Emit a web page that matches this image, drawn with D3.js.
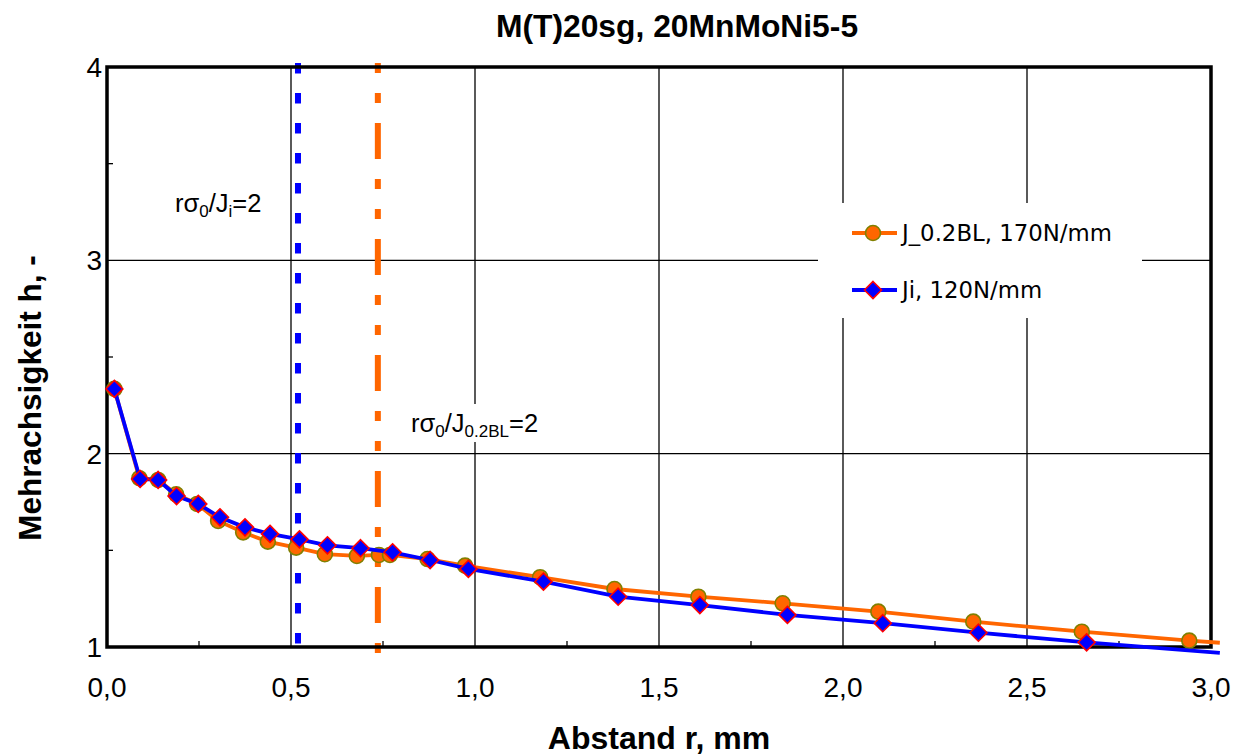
<!DOCTYPE html>
<html>
<head>
<meta charset="utf-8">
<script src="https://cdn.jsdelivr.net/npm/d3@7"></script>
<style>
body { margin: 0; background: #fff; }
text { font-family: "Liberation Sans", Arial, sans-serif; fill: #000; }
</style>
</head>
<body>
<script>
var w = 1242;
var h = 756;

//Data
var seriesNames = ["J_0.2BL, 170N/mm", "Ji, 120N/mm"];
var jblR = [0.020, 0.088, 0.139, 0.188, 0.245, 0.302, 0.370, 0.437, 0.514, 0.592, 0.679, 0.739, 0.769, 0.871, 0.973, 1.177, 1.379, 1.607, 1.836, 2.096, 2.354, 2.649, 2.941];
var jblH = [2.335, 1.873, 1.864, 1.790, 1.740, 1.652, 1.593, 1.545, 1.514, 1.480, 1.471, 1.476, 1.476, 1.455, 1.421, 1.361, 1.300, 1.260, 1.226, 1.183, 1.131, 1.079, 1.033];
var jiR = [0.020, 0.090, 0.139, 0.189, 0.248, 0.307, 0.375, 0.443, 0.523, 0.599, 0.689, 0.776, 0.878, 0.982, 1.186, 1.389, 1.611, 1.849, 2.108, 2.368, 2.662];
var jiH = [2.335, 1.869, 1.864, 1.781, 1.740, 1.671, 1.619, 1.585, 1.557, 1.526, 1.511, 1.490, 1.450, 1.404, 1.338, 1.260, 1.217, 1.166, 1.123, 1.074, 1.024];
//line continues past the last marker
var jblEnd = [3.024, 1.022];
var jiEnd = [3.024, 0.970];
//r*sigma0/J = 2 positions
var refR = [0.519, 0.736];
var xTicks = [0, 0.5, 1.0, 1.5, 2.0, 2.5, 3.0];
var xMinor = [0.25, 0.75, 1.25, 1.75, 2.25, 2.75];
var yTicks = [1, 2, 3, 4];
var yMinor = [1.5, 2.5, 3.5];

var x = d3.scaleLinear().domain([0, 3]).range([107, 1211]);
var y = d3.scaleLinear().domain([1, 4]).range([647, 67]);
var fmt = d3.formatLocale({decimal: ",", thousands: ".", grouping: [3], currency: ["", ""]}).format(".1f");

var svg = d3.select("body")
	.append("svg")
	.attr("width", w)
	.attr("height", h);

//Gridlines
svg.selectAll("line.vgrid")
	.data(xTicks.slice(1, -1))
	.enter()
	.append("line")
	.attr("x1", function(d) { return x(d); })
	.attr("x2", function(d) { return x(d); })
	.attr("y1", y(4))
	.attr("y2", y(1))
	.attr("stroke", "#000")
	.attr("stroke-width", 1.3);
svg.selectAll("line.hgrid")
	.data(yTicks.slice(1, -1))
	.enter()
	.append("line")
	.attr("x1", x(0))
	.attr("x2", x(3))
	.attr("y1", function(d) { return y(d); })
	.attr("y2", function(d) { return y(d); })
	.attr("stroke", "#000")
	.attr("stroke-width", 1.3);

//Minor ticks, inside
svg.selectAll("line.xminor")
	.data(xMinor)
	.enter()
	.append("line")
	.attr("x1", function(d) { return x(d); })
	.attr("x2", function(d) { return x(d); })
	.attr("y1", y(1))
	.attr("y2", y(1) - 6)
	.attr("stroke", "#000")
	.attr("stroke-width", 1.3);
svg.selectAll("line.yminor")
	.data(yMinor)
	.enter()
	.append("line")
	.attr("x1", x(0))
	.attr("x2", x(0) + 6)
	.attr("y1", function(d) { return y(d); })
	.attr("y2", function(d) { return y(d); })
	.attr("stroke", "#000")
	.attr("stroke-width", 1.3);

//Annotation boxes + text
function annot(tx, ty, parts) {
	var t = svg.append("text")
		.attr("x", tx)
		.attr("y", ty)
		.style("font-size", "25.5px");
	parts.forEach(function(p) {
		var s = t.append("tspan").text(p[0]);
		if (p[1] == "sub") s.style("font-size", "17px").attr("dy", 5);
		if (p[1] == "up") s.attr("dy", -5);
	});
	return t;
}
svg.append("rect")
	.attr("x", 405).attr("y", 404)
	.attr("width", 136).attr("height", 38)
	.attr("fill", "#fff");
annot(175, 212, [["r"], ["\u03c3"], ["0", "sub"], ["/J", "up"], ["i", "sub"], ["=2", "up"]]);
annot(411, 432, [["r"], ["\u03c3"], ["0", "sub"], ["/J", "up"], ["0.2BL", "sub"], ["=2", "up"]]);

//Vertical reference lines
svg.append("line")
	.attr("x1", x(refR[0])).attr("x2", x(refR[0]))
	.attr("y1", y(4) - 4).attr("y2", y(1) + 9)
	.attr("stroke", "#0000ff")
	.attr("stroke-width", 6)
	.attr("stroke-dasharray", "10.5,19.5");
svg.append("line")
	.attr("x1", x(refR[1])).attr("x2", x(refR[1]))
	.attr("y1", y(4) - 4).attr("y2", y(1) + 9)
	.attr("stroke", "#ff6600")
	.attr("stroke-width", 6)
	.attr("stroke-dasharray", "10,20,10,20,36,20");

//Plot frame
svg.append("rect")
	.attr("x", x(0))
	.attr("y", y(4))
	.attr("width", x(3) - x(0))
	.attr("height", y(1) - y(4))
	.attr("fill", "none")
	.attr("stroke", "#000")
	.attr("stroke-width", 3.5);

//Series
var line = d3.line()
	.x(function(d) { return x(d[0]); })
	.y(function(d) { return y(d[1]); });

var jbl = d3.zip(jblR, jblH);
var ji = d3.zip(jiR, jiH);

svg.append("path")
	.attr("d", line(jbl.concat([jblEnd])))
	.attr("fill", "none")
	.attr("stroke", "#ff6600")
	.attr("stroke-width", 3.8);
svg.selectAll("circle.jbl")
	.data(jbl)
	.enter()
	.append("circle")
	.attr("cx", function(d) { return x(d[0]); })
	.attr("cy", function(d) { return y(d[1]); })
	.attr("r", 7.5)
	.attr("fill", "#ff6600")
	.attr("stroke", "#808000")
	.attr("stroke-width", 1.6);

svg.append("path")
	.attr("d", line(ji.concat([jiEnd])))
	.attr("fill", "none")
	.attr("stroke", "#0000ff")
	.attr("stroke-width", 3.8);
var diamond = "M0,-8.5L8.5,0L0,8.5L-8.5,0Z";
svg.selectAll("path.ji")
	.data(ji)
	.enter()
	.append("path")
	.attr("d", diamond)
	.attr("transform", function(d) {
		return "translate(" + x(d[0]) + "," + y(d[1]) + ")";
	})
	.attr("fill", "#0000ff")
	.attr("stroke", "#ff0000")
	.attr("stroke-width", 1.6);

//Tick labels
svg.selectAll("text.xt")
	.data(xTicks)
	.enter()
	.append("text")
	.attr("x", function(d) { return x(d); })
	.attr("y", 697)
	.attr("text-anchor", "middle")
	.style("font-size", "28px")
	.text(function(d) { return fmt(d); });
svg.selectAll("text.yt")
	.data(yTicks)
	.enter()
	.append("text")
	.attr("x", 102)
	.attr("y", function(d) { return y(d); })
	.attr("dy", "0.36em")
	.attr("text-anchor", "end")
	.style("font-size", "28px")
	.text(function(d) { return d; });

//Titles
svg.append("text")
	.attr("x", 677).attr("y", 37)
	.attr("text-anchor", "middle")
	.style("font-size", "31.8px")
	.style("font-weight", "bold")
	.text("M(T)20sg, 20MnMoNi5-5");
svg.append("text")
	.attr("x", 659).attr("y", 749)
	.attr("text-anchor", "middle")
	.style("font-size", "32px")
	.style("font-weight", "bold")
	.text("Abstand r, mm");
svg.append("text")
	.attr("transform", "translate(41,398) rotate(-90)")
	.attr("text-anchor", "middle")
	.style("font-size", "31.5px")
	.style("font-weight", "bold")
	.text("Mehrachsigkeit h, -");

//Legend
var lg = svg.append("g");
lg.append("rect")
	.attr("x", 818).attr("y", 203)
	.attr("width", 324).attr("height", 115)
	.attr("fill", "#fff");
var lgY = [233, 290];
lg.append("line")
	.attr("x1", 852).attr("x2", 897)
	.attr("y1", lgY[0]).attr("y2", lgY[0])
	.attr("stroke", "#ff6600").attr("stroke-width", 3.8);
lg.append("circle")
	.attr("cx", 873).attr("cy", lgY[0]).attr("r", 7.5)
	.attr("fill", "#ff6600").attr("stroke", "#808000").attr("stroke-width", 1.6);
lg.append("line")
	.attr("x1", 852).attr("x2", 897)
	.attr("y1", lgY[1]).attr("y2", lgY[1])
	.attr("stroke", "#0000ff").attr("stroke-width", 3.8);
lg.append("path")
	.attr("d", diamond)
	.attr("transform", "translate(873," + lgY[1] + ")")
	.attr("fill", "#0000ff").attr("stroke", "#ff0000").attr("stroke-width", 1.6);
lg.selectAll("text")
	.data(seriesNames)
	.enter()
	.append("text")
	.attr("x", 902)
	.attr("y", function(d, i) { return lgY[i]; })
	.attr("dy", "0.36em")
	.style("font-family", "'DejaVu Sans', sans-serif")
	.style("font-size", "22.8px")
	.text(function(d) { return d; });
</script>
</body>
</html>
